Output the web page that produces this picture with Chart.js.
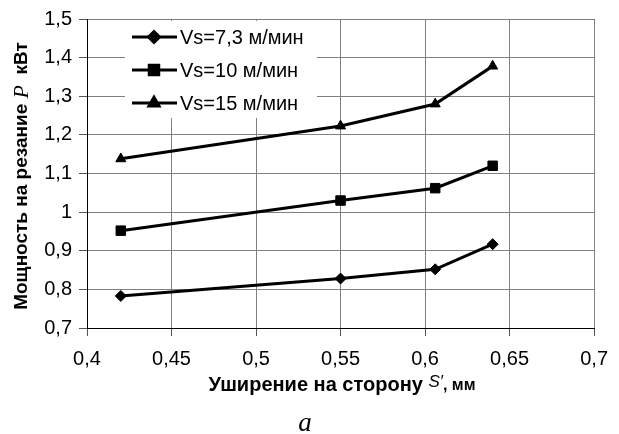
<!DOCTYPE html>
<html>
<head>
<meta charset="utf-8">
<script src="https://cdn.jsdelivr.net/npm/chart.js@4.4.1/dist/chart.umd.min.js"></script>
<style>
  html, body { margin: 0; padding: 0; background: #fff; }
  #wrap { width: 619px; height: 434px; }
</style>
</head>
<body>
<div id="wrap"><canvas id="powerChart" width="619" height="434"></canvas></div>
<script>
// widening per side S', mm
const widening = [0.42, 0.55, 0.606, 0.64];
// cutting power P, kW
const powerV73 = [0.783, 0.828, 0.852, 0.917];
const powerV10 = [0.952, 1.03, 1.062, 1.12];
const powerV15 = [1.138, 1.223, 1.28, 1.378];
const seriesLabels = ['Vs=7,3 м/мин', 'Vs=10 м/мин', 'Vs=15 м/мин'];
const xTicks = [0.4, 0.45, 0.5, 0.55, 0.6, 0.65, 0.7];
const yTicks = [0.7, 0.8, 0.9, 1.0, 1.1, 1.2, 1.3, 1.4, 1.5];

const SANS = '"Liberation Sans", Arial, sans-serif';
const SERIF = '"Liberation Serif", "Times New Roman", serif';

function fmt(v) {
  return String(Math.round(v * 100) / 100).replace('.', ',');
}

function toPoints(ys) {
  return widening.map((x, i) => ({ x: x, y: ys[i] }));
}

function makeSet(label, ys, style, radius) {
  return {
    label: label,
    data: toPoints(ys),
    borderColor: '#000',
    backgroundColor: '#000',
    borderWidth: 3,
    pointStyle: style,
    pointRadius: radius,
    pointBorderWidth: 1,
    tension: 0,
  };
}

// draws a text made of several font runs, centred on (0, 0)
function drawRuns(ctx, runs) {
  let total = 0;
  runs.forEach((r) => { ctx.font = r.font; total += ctx.measureText(r.text).width; });
  let x = -total / 2;
  runs.forEach((r) => {
    ctx.font = r.font;
    ctx.fillText(r.text, x, r.dy || 0);
    x += ctx.measureText(r.text).width;
  });
}

const decorPlugin = {
  id: 'decor',
  afterDraw(chart) {
    const ctx = chart.ctx;
    ctx.save();
    ctx.fillStyle = '#000';
    ctx.textBaseline = 'middle';
    ctx.textAlign = 'left';

    // y title
    ctx.save();
    ctx.translate(22, 176);
    ctx.rotate(-Math.PI / 2);
    drawRuns(ctx, [
      { text: 'Мощность на резание ', font: 'bold 19px ' + SANS },
      { text: 'P', font: 'italic 22px ' + SERIF },
      { text: '  кВт', font: 'bold 19px ' + SANS },
    ]);
    ctx.restore();

    // x title
    ctx.save();
    ctx.translate(342, 385);
    drawRuns(ctx, [
      { text: 'Уширение на сторону ', font: 'bold 20px ' + SANS },
      { text: 'S′', font: 'italic 17px ' + SANS, dy: -3 },
      { text: ', мм', font: 'bold 16px ' + SANS, dy: 1 },
    ]);
    ctx.restore();

    // caption
    ctx.save();
    ctx.translate(305, 424);
    drawRuns(ctx, [{ text: 'a', font: 'italic 27px ' + SERIF }]);
    ctx.restore();

    // legend inside the plot
    ctx.fillStyle = '#fff';
    ctx.fillRect(125, 21, 192, 97);
    const rows = [37, 70, 103];
    chart.data.datasets.forEach((ds, i) => {
      const y = rows[i];
      ctx.strokeStyle = '#000';
      ctx.lineWidth = 3;
      ctx.beginPath();
      ctx.moveTo(132, y);
      ctx.lineTo(177, y);
      ctx.stroke();
      ctx.fillStyle = '#000';
      Chart.helpers.drawPoint(ctx, { pointStyle: ds.pointStyle, radius: ds.pointRadius, borderWidth: 1 }, 154, y);
      ctx.fill();
      ctx.font = '20px ' + SANS;
      ctx.textAlign = 'left';
      ctx.fillText(ds.label, 180, y + 1);
    });
    ctx.restore();
  },
};

new Chart(document.getElementById('powerChart'), {
  type: 'line',
  data: {
    datasets: [
      makeSet(seriesLabels[0], powerV73, 'rectRot', 5.5),
      makeSet(seriesLabels[1], powerV10, 'rect', 6.7),
      makeSet(seriesLabels[2], powerV15, 'triangle', 5.8),
    ],
  },
  options: {
    responsive: false,
    animation: false,
    layout: { padding: { top: 19, right: 13, left: 0, bottom: 0 } },
    plugins: { legend: { display: false }, tooltip: { enabled: false } },
    scales: {
      x: {
        type: 'linear',
        min: 0.4,
        max: 0.7,
        afterBuildTicks: (scale) => { scale.ticks = xTicks.map((v) => ({ value: v })); },
        afterFit: (scale) => { scale.height = 106; },
        ticks: {
          color: '#000',
          font: { family: SANS, size: 20 },
          padding: 11,
          maxRotation: 0,
          callback: (v) => fmt(v),
        },
        grid: { color: '#808080', lineWidth: 1, tickLength: 8, tickColor: '#555' },
        border: { color: '#000', width: 1 },
      },
      y: {
        min: 0.7,
        max: 1.5,
        afterBuildTicks: (scale) => { scale.ticks = yTicks.map((v) => ({ value: v })); },
        afterFit: (scale) => { scale.width = 87; },
        ticks: {
          color: '#000',
          font: { family: SANS, size: 20 },
          padding: 7,
          callback: (v) => fmt(v),
        },
        grid: { color: '#808080', lineWidth: 1, tickLength: 8, tickColor: '#555' },
        border: { color: '#000', width: 1 },
      },
    },
  },
  plugins: [decorPlugin],
});
</script>
</body>
</html>
